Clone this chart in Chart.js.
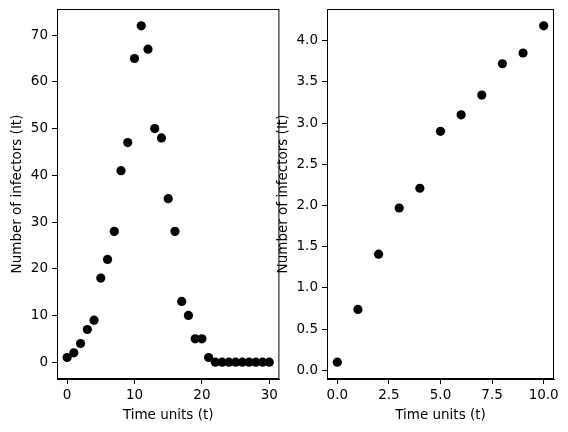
<!DOCTYPE html>
<html>
<head>
<meta charset="utf-8">
<script src="https://cdn.jsdelivr.net/npm/chart.js@4/dist/chart.umd.min.js"></script>
<style>
  body { margin: 0; background: #fff; }
  #wrap { position: relative; width: 568px; height: 432px; }
  .box { position: absolute; top: 0; height: 432px; }
</style>
</head>
<body>
<div id="wrap">
  <div class="box" style="left:0;width:284px"><canvas id="left"></canvas></div>
  <div class="box" style="left:270px;width:298px"><canvas id="right"></canvas></div>
</div>
<script>
// left panel: infectors over time
const leftTimes = [0, 1, 2, 3, 4, 5, 6, 7, 8, 9, 10, 11, 12, 13, 14, 15, 16, 17, 18, 19, 20, 21, 22, 23, 24, 25, 26, 27, 28, 29, 30]
const leftInfectors = [1, 2, 4, 7, 9, 18, 22, 28, 41, 47, 65, 72, 67, 50, 48, 35, 28, 13, 10, 5, 5, 1, 0, 0, 0, 0, 0, 0, 0, 0, 0]

// right panel
const rightTimes = [0, 1, 2, 3, 4, 5, 6, 7, 8, 9, 10]
const rightInfectors = [0.1, 0.74, 1.41, 1.97, 2.21, 2.9, 3.1, 3.34, 3.72, 3.85, 4.18]

const xLabel = 'Time units (t)'
const yLabel = 'Number of infectors (It)'

Chart.defaults.font.family = 'DejaVu Sans'
Chart.defaults.font.size = 13.5
Chart.defaults.color = '#000'

// draws the full box around the plot area
const frame = {
  id: 'frame',
  afterDraw(chart) {
    const { ctx, chartArea: a } = chart
    ctx.save()
    ctx.strokeStyle = '#000'
    ctx.lineWidth = 1
    ctx.strokeRect(a.left + 0.5, a.top + 0.5, a.right - a.left - 1, a.bottom - a.top - 1)
    ctx.restore()
  },
}

const makeChart = (id, xs, ys, xr, yr, fmt, padRight, titlePad) => {
  return new Chart(document.getElementById(id), {
    type: 'scatter',
    data: {
      datasets: [{
        data: xs.map((x, i) => ({ x, y: ys[i] })),
        backgroundColor: '#000',
        borderColor: '#000',
        borderWidth: 0,
        pointRadius: 4.6,
        pointHoverRadius: 4.6,
      }],
    },
    options: {
      responsive: true,
      maintainAspectRatio: false,
      animation: false,
      layout: { padding: { top: 9, right: padRight, left: 0, bottom: 0 } },
      plugins: { legend: { display: false }, tooltip: { enabled: false } },
      scales: {
        x: {
          type: 'linear',
          min: xr.min, max: xr.max,
          afterFit: (s) => { s.height = 53; s.paddingLeft = 0; s.paddingRight = 0 },
          grid: { drawOnChartArea: false, color: '#000', tickLength: 5 },
          border: { color: '#000' },
          ticks: { stepSize: xr.step, includeBounds: false, padding: 3, maxRotation: 0, callback: (v) => fmt.x(v) },
          title: { display: true, text: xLabel, padding: { top: 2, bottom: 8 } },
        },
        y: {
          type: 'linear',
          min: yr.min, max: yr.max,
          afterFit: (s) => { s.width = 57; s.paddingTop = 0; s.paddingBottom = 0 },
          grid: { drawOnChartArea: false, color: '#000', tickLength: 5 },
          border: { color: '#000' },
          ticks: { stepSize: yr.step, includeBounds: false, padding: 4, callback: (v) => fmt.y(v) },
          title: { display: true, text: yLabel, padding: { top: titlePad, bottom: 0 } },
        },
      },
    },
    plugins: [frame],
  })
}

makeChart('left', leftTimes, leftInfectors,
  { min: -1.5, max: 31.5, step: 10 }, { min: -3.6, max: 75.6, step: 10 },
  { x: (v) => String(v), y: (v) => String(v) }, 1, 9)

makeChart('right', rightTimes, rightInfectors,
  { min: -0.5, max: 10.5, step: 2.5 }, { min: -0.104, max: 4.384, step: 0.5 },
  { x: (v) => v.toFixed(1), y: (v) => v.toFixed(1) }, 14, 5.4)
</script>
</body>
</html>
